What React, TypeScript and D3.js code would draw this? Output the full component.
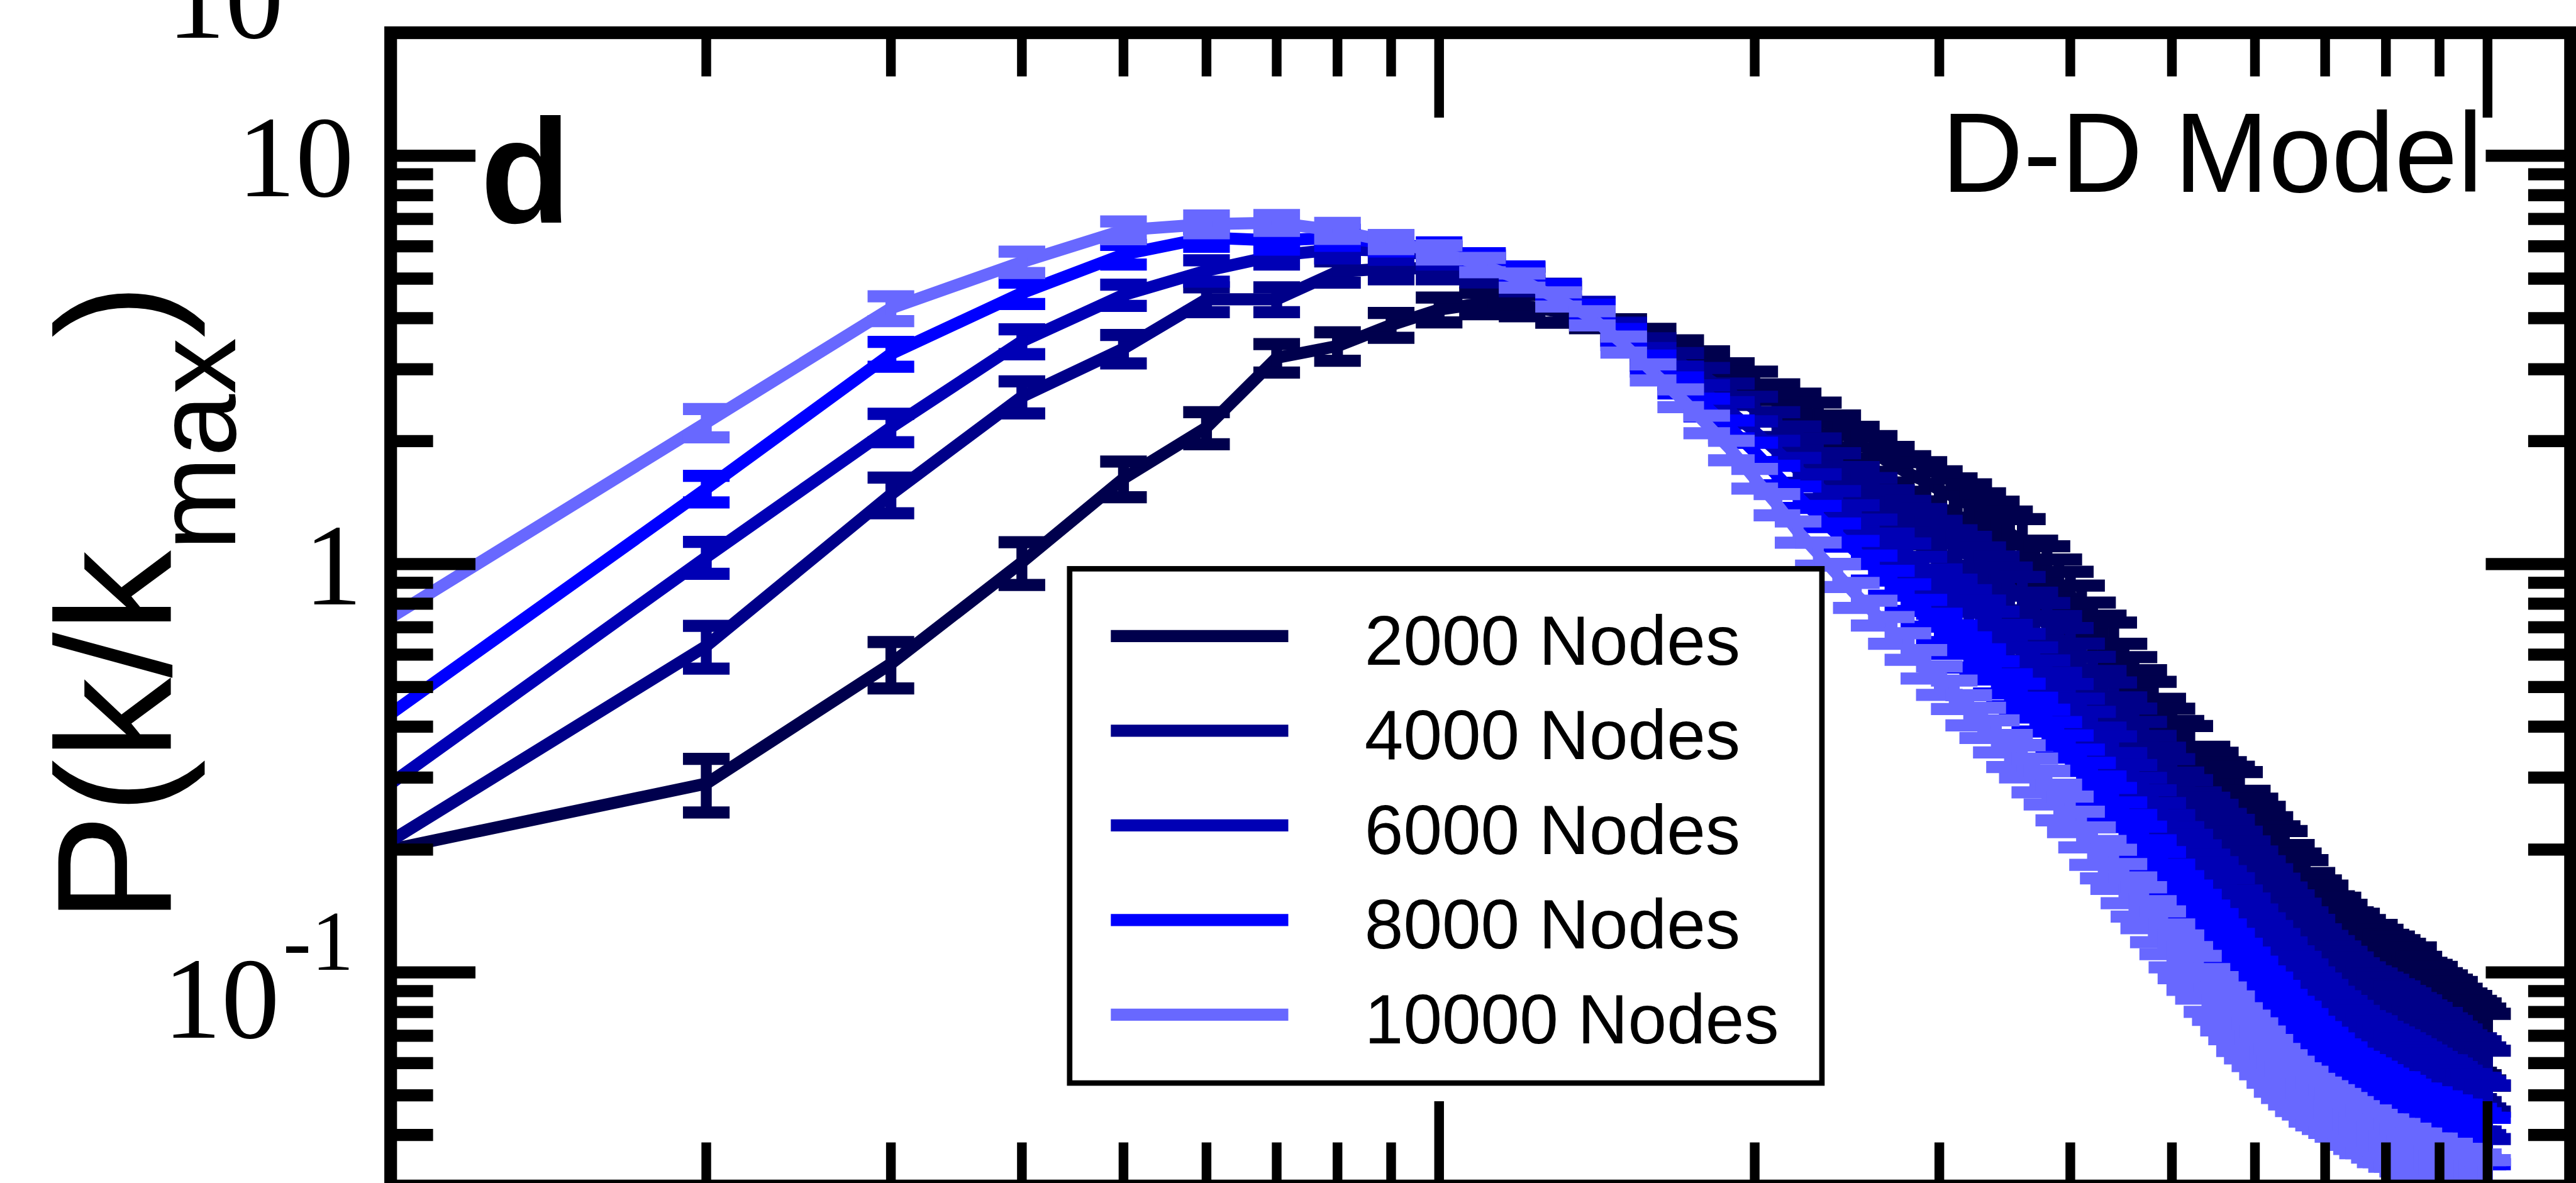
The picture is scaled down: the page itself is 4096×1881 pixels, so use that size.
import * as d3 from "d3";

// k/kmax bins (x): one point per 0.01
const kRatio = [
  0.01, 0.02, 0.03, 0.04, 0.05, 0.06, 0.07, 0.08, 0.09, 0.1,
  0.11, 0.12, 0.13, 0.14, 0.15, 0.16, 0.17, 0.18, 0.19, 0.2,
  0.21, 0.22, 0.23, 0.24, 0.25, 0.26, 0.27, 0.28, 0.29, 0.3,
  0.31, 0.32, 0.33, 0.34, 0.35, 0.36, 0.37, 0.38, 0.39, 0.4,
  0.41, 0.42, 0.43, 0.44, 0.45, 0.46, 0.47, 0.48, 0.49, 0.5,
  0.51, 0.52, 0.53, 0.54, 0.55, 0.56, 0.57, 0.58, 0.59, 0.6,
  0.61, 0.62, 0.63, 0.64, 0.65, 0.66, 0.67, 0.68, 0.69, 0.7,
  0.71, 0.72, 0.73, 0.74, 0.75, 0.76, 0.77, 0.78, 0.79, 0.8,
  0.81, 0.82, 0.83, 0.84, 0.85, 0.86, 0.87, 0.88, 0.89, 0.9,
  0.91, 0.92, 0.93, 0.94, 0.95, 0.96, 0.97, 0.98, 0.99, 1.0,
];

const p2000 = [
  0.2, 0.29, 0.57, 1.01, 1.62, 2.16, 3.2, 3.42, 3.85, 4.2,
  4.35, 4.3, 4.15, 4.02, 3.75, 3.52, 3.3, 3.1, 2.9, 2.74,
  2.55, 2.42, 2.28, 2.12, 1.99, 1.87, 1.76, 1.67, 1.6, 1.52,
  1.46, 1.4, 1.33, 1.27, 1.19, 1.14, 1.01, 0.97, 0.9, 0.84,
  0.77, 0.7, 0.65, 0.62, 0.55, 0.51, 0.47, 0.44, 0.4, 0.375,
  0.35, 0.34, 0.3, 0.3, 0.29, 0.275, 0.268, 0.258, 0.232, 0.222,
  0.212, 0.2, 0.19, 0.185, 0.171, 0.163, 0.157, 0.146, 0.14, 0.136,
  0.128, 0.127, 0.122, 0.117, 0.116, 0.112, 0.108, 0.109, 0.106, 0.103,
  0.102, 0.1, 0.098, 0.095, 0.096, 0.091, 0.088, 0.087, 0.086, 0.083,
  0.082, 0.08, 0.079, 0.076, 0.074, 0.073, 0.071, 0.07, 0.068, 0.066,
];

const p4000 = [
  0.21, 0.63, 1.48, 2.57, 3.37, 4.45, 4.45, 5.2, 5.3, 5.3,
  5.15, 4.9, 4.55, 4.15, 3.72, 3.37, 3.1, 2.85, 2.61, 2.4,
  2.2, 2.03, 1.88, 1.73, 1.6, 1.49, 1.39, 1.31, 1.24, 1.16,
  1.1, 1.05, 0.99, 0.94, 0.876, 0.83, 0.76, 0.71, 0.66, 0.617,
  0.56, 0.52, 0.48, 0.45, 0.41, 0.385, 0.357, 0.33, 0.306, 0.287,
  0.266, 0.255, 0.236, 0.229, 0.22, 0.209, 0.202, 0.189, 0.179, 0.169,
  0.16, 0.153, 0.145, 0.138, 0.132, 0.126, 0.12, 0.115, 0.109, 0.105,
  0.102, 0.099, 0.096, 0.093, 0.09, 0.088, 0.086, 0.085, 0.083, 0.082,
  0.08, 0.079, 0.077, 0.076, 0.074, 0.073, 0.071, 0.07, 0.068, 0.068,
  0.066, 0.065, 0.063, 0.062, 0.06, 0.059, 0.059, 0.058, 0.056, 0.055,
];

const p6000 = [
  0.29, 1.04, 2.16, 3.51, 4.56, 5.23, 5.7, 5.9, 5.85, 5.7,
  5.45, 5.1, 4.65, 4.2, 3.7, 3.22, 2.9, 2.61, 2.35, 2.11,
  1.89, 1.7, 1.55, 1.41, 1.29, 1.19, 1.1, 1.03, 0.955, 0.89,
  0.84, 0.785, 0.74, 0.695, 0.645, 0.608, 0.563, 0.523, 0.488, 0.454,
  0.418, 0.388, 0.355, 0.335, 0.305, 0.285, 0.265, 0.245, 0.228, 0.213,
  0.199, 0.189, 0.178, 0.169, 0.162, 0.154, 0.148, 0.138, 0.132, 0.124,
  0.118, 0.113, 0.108, 0.103, 0.098, 0.095, 0.091, 0.087, 0.084, 0.081,
  0.078, 0.076, 0.074, 0.072, 0.07, 0.068, 0.067, 0.066, 0.064, 0.063,
  0.062, 0.061, 0.06, 0.059, 0.058, 0.057, 0.056, 0.055, 0.054, 0.053,
  0.053, 0.052, 0.051, 0.05, 0.049, 0.049, 0.048, 0.048, 0.047, 0.046,
];

const p8000 = [
  0.43, 1.53, 3.27, 4.61, 5.73, 6.3, 6.2, 6.3, 6.1, 5.9,
  5.55, 5.15, 4.65, 4.15, 3.6, 3.1, 2.74, 2.42, 2.14, 1.88,
  1.65, 1.46, 1.31, 1.18, 1.07, 0.98, 0.9, 0.83, 0.76, 0.7,
  0.655, 0.61, 0.57, 0.53, 0.493, 0.465, 0.43, 0.4, 0.373, 0.346,
  0.318, 0.295, 0.272, 0.255, 0.235, 0.218, 0.204, 0.188, 0.176, 0.164,
  0.153, 0.145, 0.137, 0.129, 0.123, 0.116, 0.11, 0.104, 0.099, 0.094,
  0.089, 0.086, 0.082, 0.078, 0.075, 0.073, 0.07, 0.067, 0.065, 0.063,
  0.061, 0.059, 0.058, 0.056, 0.055, 0.054, 0.053, 0.052, 0.051, 0.05,
  0.049, 0.049, 0.048, 0.047, 0.046, 0.046, 0.045, 0.045, 0.044, 0.044,
  0.043, 0.043, 0.042, 0.042, 0.041, 0.041, 0.041, 0.04, 0.039, 0.039,
];

const p10000 = [
  0.74, 2.22, 4.23, 5.49, 6.57, 6.8, 6.85, 6.55, 6.15, 5.8,
  5.4, 4.95, 4.45, 4.0, 3.45, 2.95, 2.55, 2.2, 1.9, 1.62,
  1.4, 1.2, 1.06, 0.94, 0.84, 0.76, 0.69, 0.63, 0.57, 0.52,
  0.48, 0.44, 0.41, 0.38, 0.35, 0.33, 0.305, 0.285, 0.262, 0.245,
  0.225, 0.205, 0.19, 0.18, 0.166, 0.154, 0.145, 0.134, 0.126, 0.117,
  0.11, 0.103, 0.098, 0.091, 0.087, 0.082, 0.078, 0.073, 0.07, 0.067,
  0.064, 0.061, 0.058, 0.056, 0.054, 0.052, 0.051, 0.049, 0.048, 0.047,
  0.046, 0.045, 0.044, 0.043, 0.042, 0.041, 0.041, 0.04, 0.039, 0.039,
  0.038, 0.038, 0.037, 0.037, 0.036, 0.036, 0.035, 0.035, 0.035, 0.034,
  0.034, 0.034, 0.033, 0.033, 0.033, 0.032, 0.032, 0.032, 0.031, 0.031,
];

// relative error bars (fraction of the value)
const err2000 = [
  0, 0.15, 0.13, 0.12, 0.1, 0.09, 0.08, 0.08, 0.07, 0.07,
  0.06, 0.06, 0.06, 0.06, 0.06, 0.07, 0.07, 0.07, 0.07, 0.08,
  0.08, 0.08, 0.09, 0.09, 0.09, 0.1, 0.1, 0.1, 0.11, 0.11,
  0.11, 0.12, 0.12, 0.12, 0.13, 0.13, 0.13, 0.14, 0.14, 0.14,
  0.15, 0.15, 0.15, 0.16, 0.16, 0.16, 0.17, 0.17, 0.17, 0.18,
  0.18, 0.18, 0.18, 0.19, 0.19, 0.19, 0.19, 0.2, 0.2, 0.2,
  0.2, 0.2, 0.2, 0.2, 0.2, 0.2, 0.2, 0.2, 0.2, 0.2,
  0.2, 0.2, 0.2, 0.2, 0.2, 0.2, 0.2, 0.2, 0.2, 0.2,
  0.2, 0.2, 0.2, 0.2, 0.2, 0.2, 0.2, 0.2, 0.2, 0.2,
  0.2, 0.2, 0.2, 0.2, 0.2, 0.2, 0.2, 0.2, 0.2, 0.2,
];
const err4000 = [
  0, 0.12, 0.1, 0.09, 0.08, 0.07, 0.07, 0.06, 0.06, 0.06,
  0.05, 0.05, 0.05, 0.05, 0.05, 0.06, 0.06, 0.06, 0.06, 0.07,
  0.07, 0.07, 0.08, 0.08, 0.08, 0.09, 0.09, 0.09, 0.1, 0.1,
  0.1, 0.11, 0.11, 0.11, 0.12, 0.12, 0.12, 0.13, 0.13, 0.13,
  0.14, 0.14, 0.14, 0.14, 0.15, 0.15, 0.15, 0.15, 0.16, 0.16,
  0.16, 0.16, 0.17, 0.17, 0.17, 0.17, 0.17, 0.17, 0.17, 0.17,
  0.17, 0.17, 0.17, 0.17, 0.17, 0.17, 0.17, 0.17, 0.17, 0.17,
  0.17, 0.17, 0.17, 0.17, 0.17, 0.17, 0.17, 0.17, 0.17, 0.17,
  0.17, 0.17, 0.17, 0.17, 0.17, 0.17, 0.17, 0.17, 0.17, 0.17,
  0.17, 0.17, 0.17, 0.17, 0.17, 0.17, 0.17, 0.17, 0.17, 0.17,
];
const err6000 = [
  0, 0.09, 0.08, 0.07, 0.06, 0.06, 0.05, 0.05, 0.05, 0.05,
  0.045, 0.045, 0.045, 0.045, 0.05, 0.05, 0.05, 0.05, 0.06, 0.06,
  0.06, 0.07, 0.07, 0.07, 0.08, 0.08, 0.08, 0.09, 0.09, 0.09,
  0.09, 0.1, 0.1, 0.1, 0.1, 0.11, 0.11, 0.11, 0.11, 0.12,
  0.12, 0.12, 0.12, 0.13, 0.13, 0.13, 0.13, 0.14, 0.14, 0.14,
  0.14, 0.15, 0.15, 0.15, 0.15, 0.15, 0.15, 0.15, 0.15, 0.15,
  0.15, 0.15, 0.15, 0.15, 0.15, 0.15, 0.15, 0.15, 0.15, 0.15,
  0.15, 0.15, 0.15, 0.15, 0.15, 0.15, 0.15, 0.15, 0.15, 0.15,
  0.15, 0.15, 0.15, 0.15, 0.15, 0.15, 0.15, 0.15, 0.15, 0.15,
  0.15, 0.15, 0.15, 0.15, 0.15, 0.15, 0.15, 0.15, 0.15, 0.15,
];
const err8000 = [
  0, 0.075, 0.07, 0.06, 0.055, 0.05, 0.05, 0.045, 0.045, 0.04,
  0.04, 0.04, 0.04, 0.04, 0.045, 0.045, 0.045, 0.05, 0.05, 0.055,
  0.055, 0.06, 0.06, 0.065, 0.065, 0.07, 0.07, 0.075, 0.075, 0.08,
  0.08, 0.085, 0.085, 0.09, 0.09, 0.095, 0.095, 0.1, 0.1, 0.1,
  0.105, 0.105, 0.11, 0.11, 0.11, 0.115, 0.115, 0.12, 0.12, 0.12,
  0.125, 0.125, 0.13, 0.13, 0.13, 0.13, 0.13, 0.13, 0.13, 0.13,
  0.13, 0.13, 0.13, 0.13, 0.13, 0.13, 0.13, 0.13, 0.13, 0.13,
  0.13, 0.13, 0.13, 0.13, 0.13, 0.13, 0.13, 0.13, 0.13, 0.13,
  0.13, 0.13, 0.13, 0.13, 0.13, 0.13, 0.13, 0.13, 0.13, 0.13,
  0.13, 0.13, 0.13, 0.13, 0.13, 0.13, 0.13, 0.13, 0.13, 0.13,
];
const err10000 = [
  0, 0.08, 0.07, 0.06, 0.05, 0.05, 0.045, 0.045, 0.04, 0.04,
  0.04, 0.04, 0.04, 0.04, 0.045, 0.045, 0.05, 0.05, 0.055, 0.055,
  0.06, 0.06, 0.065, 0.065, 0.07, 0.07, 0.075, 0.075, 0.08, 0.08,
  0.08, 0.085, 0.085, 0.09, 0.09, 0.09, 0.095, 0.095, 0.1, 0.1,
  0.1, 0.105, 0.105, 0.11, 0.11, 0.11, 0.115, 0.115, 0.12, 0.12,
  0.12, 0.12, 0.12, 0.12, 0.12, 0.12, 0.12, 0.12, 0.12, 0.12,
  0.12, 0.12, 0.12, 0.12, 0.12, 0.12, 0.12, 0.12, 0.12, 0.12,
  0.12, 0.12, 0.12, 0.12, 0.12, 0.12, 0.12, 0.12, 0.12, 0.12,
  0.12, 0.12, 0.12, 0.12, 0.12, 0.12, 0.12, 0.12, 0.12, 0.12,
  0.12, 0.12, 0.12, 0.12, 0.12, 0.12, 0.12, 0.12, 0.12, 0.12,
];

const seriesNames = ["2000 Nodes", "4000 Nodes", "6000 Nodes", "8000 Nodes", "10000 Nodes"];
const seriesColors = ["#00004d", "#000089", "#0000b5", "#0000ff", "#6868ff"];
const seriesValues = [p2000, p4000, p6000, p8000, p10000];
const seriesErrors = [err2000, err4000, err6000, err8000, err10000];

const yTickValues = [0.1, 1, 10];
const yTickBase = ["10", "1", "10"];
const yTickSup = ["-1", "", ""];

const SERIF = "'Liberation Serif', 'Times New Roman', Times, serif";
const SANS = "'Liberation Sans', Arial, Helvetica, sans-serif";

export default function App() {
  // drawn in reference pixels, scaled by the viewBox to the window
  const W = 4253;
  const H = 1953;
  const left = 645, right = 4244, top = 54, bottom = 1958;

  const x = d3.scaleLog().domain([0.01, 1.2]).range([left, right]);
  const y = d3.scaleLog().domain([0.03, 20]).range([bottom, top]);

  const isPow10 = (v: number) => Math.abs(Math.log10(v) - Math.round(Math.log10(v))) < 1e-6;
  const xTicks = x.ticks().filter(t => t > 0.0101 && t < 1.19);
  const yTicks = y.ticks().filter(t => t > 0.0301 && t < 19.9);

  const line = d3.line<[number, number]>()
    .x(d => x(d[0]))
    .y(d => y(d[1]));

  const capHalf = 38.5;

  const legendX = 1766, legendY = 939, legendW = 1242, legendH = 849;
  const legendRow = d3.scaleLinear().domain([0, 1]).range([1050, 1206.3]);

  return (
    <svg
      width={4096}
      height={1881}
      viewBox={`0 0 ${W} ${H}`}
      style={{ position: "absolute", left: 0, top: 0, background: "#fff" }}
    >
      <defs>
        <clipPath id="plotClip">
          <rect x={left} y={top} width={right - left} height={bottom - top} />
        </clipPath>
      </defs>
      <rect x={0} y={0} width={W} height={H} fill="#fff" />

      <g clipPath="url(#plotClip)">
        {seriesValues.map((vals, s) => {
          const pts = kRatio.map((k, i) => [k, vals[i]] as [number, number]);
          return (
            <g key={s}>
              <path
                d={line(pts) || ""}
                fill="none"
                stroke={seriesColors[s]}
                strokeWidth={20}
                strokeLinejoin="miter"
                strokeMiterlimit={2}
              />
              {pts.map((p, i) => {
                const e = seriesErrors[s][i];
                if (!e) return null;
                const cx = x(p[0]);
                const yHi = y(p[1] * (1 + e));
                const yLo = y(p[1] * (1 - e));
                return (
                  <g key={i} stroke={seriesColors[s]}>
                    <line x1={cx} x2={cx} y1={yHi} y2={yLo} strokeWidth={18} />
                    <line x1={cx - capHalf} x2={cx + capHalf} y1={yHi} y2={yHi} strokeWidth={20} />
                    <line x1={cx - capHalf} x2={cx + capHalf} y1={yLo} y2={yLo} strokeWidth={20} />
                  </g>
                );
              })}
            </g>
          );
        })}
      </g>

      {/* x ticks, top and bottom */}
      <g stroke="#000" strokeWidth={16}>
        {xTicks.map((t, i) => {
          const len = isPow10(t) ? 140 : 72;
          return (
            <g key={i}>
              <line x1={x(t)} x2={x(t)} y1={top} y2={top + len} />
              <line x1={x(t)} x2={x(t)} y1={bottom} y2={bottom - len} />
            </g>
          );
        })}
      </g>

      {/* y ticks, left and right */}
      <g stroke="#000" strokeWidth={20}>
        {yTicks.map((t, i) => {
          const len = isPow10(t) ? 140 : 70;
          return (
            <g key={i}>
              <line x1={left} x2={left + len} y1={y(t)} y2={y(t)} />
              <line x1={right} x2={right - len} y1={y(t)} y2={y(t)} />
            </g>
          );
        })}
      </g>

      <rect
        x={left}
        y={top}
        width={right - left}
        height={bottom - top}
        fill="none"
        stroke="#000"
        strokeWidth={21}
      />

      {/* y tick labels */}
      {yTickValues.map((v, i) => {
        const hasSup = yTickSup[i] !== "";
        const baseY = y(v) + (hasSup ? 108 : 67);
        const ax = yTickBase[i] === "1" ? 598 : 584;
        return (
          <text
            key={i}
            x={ax}
            y={baseY}
            textAnchor="end"
            fontFamily={SERIF}
            fontSize={192}
            fill="#000"
          >
            {yTickBase[i]}
            {hasSup && (
              <tspan dx={6} dy={-112} fontSize={140}>
                {yTickSup[i]}
              </tspan>
            )}
          </text>
        );
      })}

      {/* label of the panel above, cut by the top edge as in the source */}
      <text x={468} y={62} textAnchor="end" fontFamily={SERIF} fontSize={192} fill="#000">
        10
      </text>

      {/* y axis title */}
      <text
        transform="translate(282,1524) rotate(-90)"
        fontFamily={SANS}
        fontSize={270}
        fill="#000"
      >
        P(k/k
        <tspan fontSize={186} dy={106}>max</tspan>
        <tspan fontSize={270} dy={-106}>)</tspan>
      </text>

      <text x={793} y={368} fontFamily={SANS} fontWeight="bold" fontSize={245} fill="#000">
        d
      </text>
      <text x={4099} y={317} textAnchor="end" fontFamily={SANS} fontSize={187} fill="#000">
        D-D Model
      </text>

      {/* legend */}
      <rect
        x={legendX}
        y={legendY}
        width={legendW}
        height={legendH}
        fill="#fff"
        stroke="#000"
        strokeWidth={9}
      />
      {seriesNames.map((name, i) => {
        const ly = legendRow(i);
        return (
          <g key={name}>
            <line x1={1834} x2={2127} y1={ly} y2={ly} stroke={seriesColors[i]} strokeWidth={20} />
            <text x={2253} y={ly + 47} fontFamily={SANS} fontSize={115} fill="#000">
              {name}
            </text>
          </g>
        );
      })}
    </svg>
  );
}
